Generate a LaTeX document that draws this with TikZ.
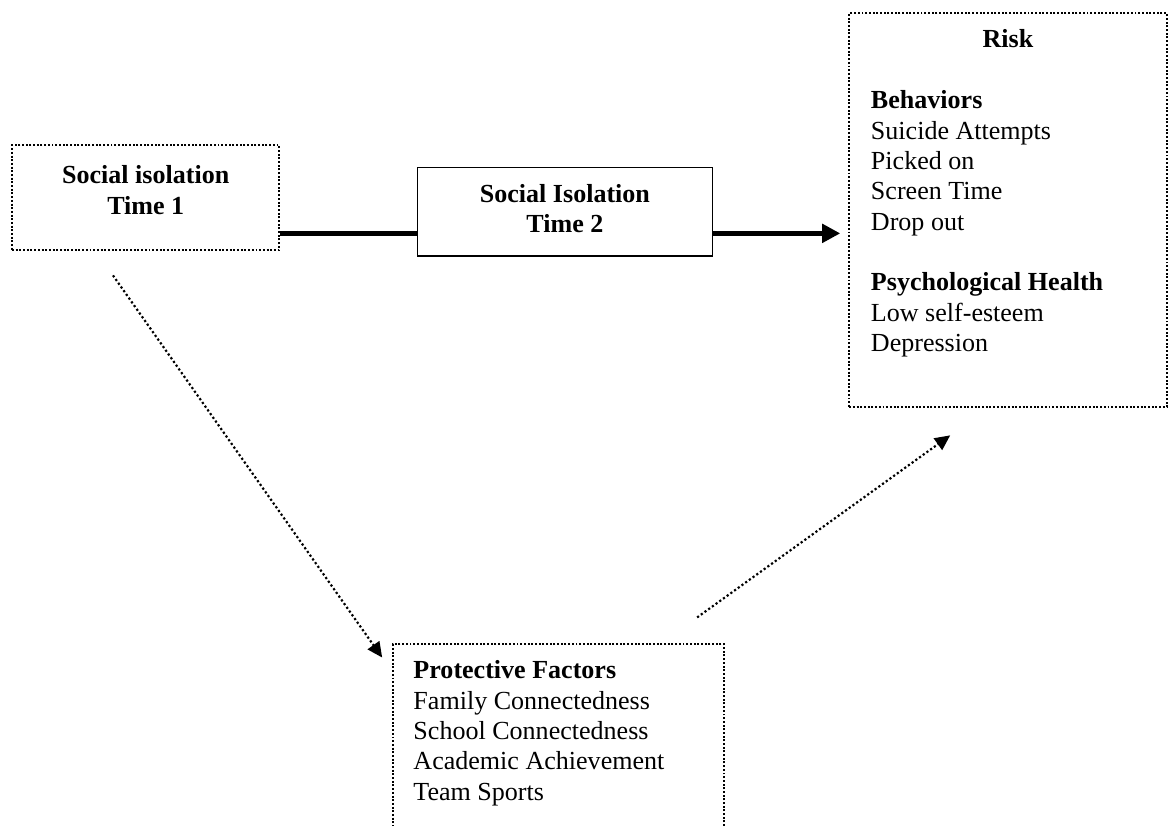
\documentclass[tikz,border=0pt]{standalone}
\usepackage{fontspec}
\setmainfont{Liberation Serif}
\usetikzlibrary{positioning,arrows.meta}

\begin{document}
\begin{tikzpicture}[
	font=\fontsize{12}{14}\selectfont,
	dotbox/.style={draw=black, line width=0.9pt, dash pattern=on 0.9pt off 0.8pt, inner sep=0pt},
	solidbox/.style={draw=black, line width=0.7pt, inner sep=0pt},
	listtext/.style={inner sep=0pt, align=left},
	pathline/.style={line width=2.3pt},
	dotarrow/.style={line width=1pt, dash pattern=on 1pt off 1.1pt, -{Triangle[length=7pt,width=6.5pt]}}
]
	\useasboundingbox (0, 0) rectangle (18.95, 13.37);
	\node[dotbox, minimum width=4.33cm, minimum height=1.69cm, align=center, text depth=7pt] (time1) at (2.36, 10.17) {\textbf{Social isolation}\\\textbf{Time 1}};
	\node[solidbox, minimum width=4.78cm, minimum height=1.44cm, align=center, text depth=3pt] (time2) at (9.15, 9.94) {\textbf{Social Isolation}\\\textbf{Time 2}};
	\node[dotbox, minimum width=5.14cm, minimum height=6.38cm, anchor=north west] (risk) at (13.74, 13.17) {};
	\node[dotbox, minimum width=5.36cm, minimum height=3.5cm, anchor=north west] (prot) at (6.35, 2.95) {};
	\coordinate (mid) at (0, 9.59);
	\node[inner sep=0pt, below=0.275cm of risk.north] (risktitle) {\textbf{Risk}};
	\node[listtext, below right=1.26cm and 0.36cm of risk.north west] (risklist) {\textbf{Behaviors}\\Suicide Attempts\\Picked on\\Screen Time\\Drop out\\[14pt]\textbf{Psychological Health}\\Low self-esteem\\Depression};
	\node[listtext, below right=0.275cm and 0.34cm of prot.north west] (protlist) {\textbf{Protective Factors}\\Family Connectedness\\School Connectedness\\Academic Achievement\\Team Sports};
	\draw[pathline] (time1.east |- mid) -- (time2.west |- mid);
	\draw[pathline, -{Triangle[length=8.4pt,width=8.4pt]}, shorten >=3.7pt] (time2.east |- mid) -- (risk.west |- mid);
	\draw[dotarrow] ([xshift=-0.53cm, yshift=-0.4cm]time1.south) -- ([xshift=-0.16cm, yshift=-0.23cm]prot.north west);
	\draw[dotarrow] ([xshift=-0.45cm, yshift=0.42cm]prot.north east) -- ([xshift=1.65cm, yshift=-0.44cm]risk.south west);
\end{tikzpicture}
\end{document}
